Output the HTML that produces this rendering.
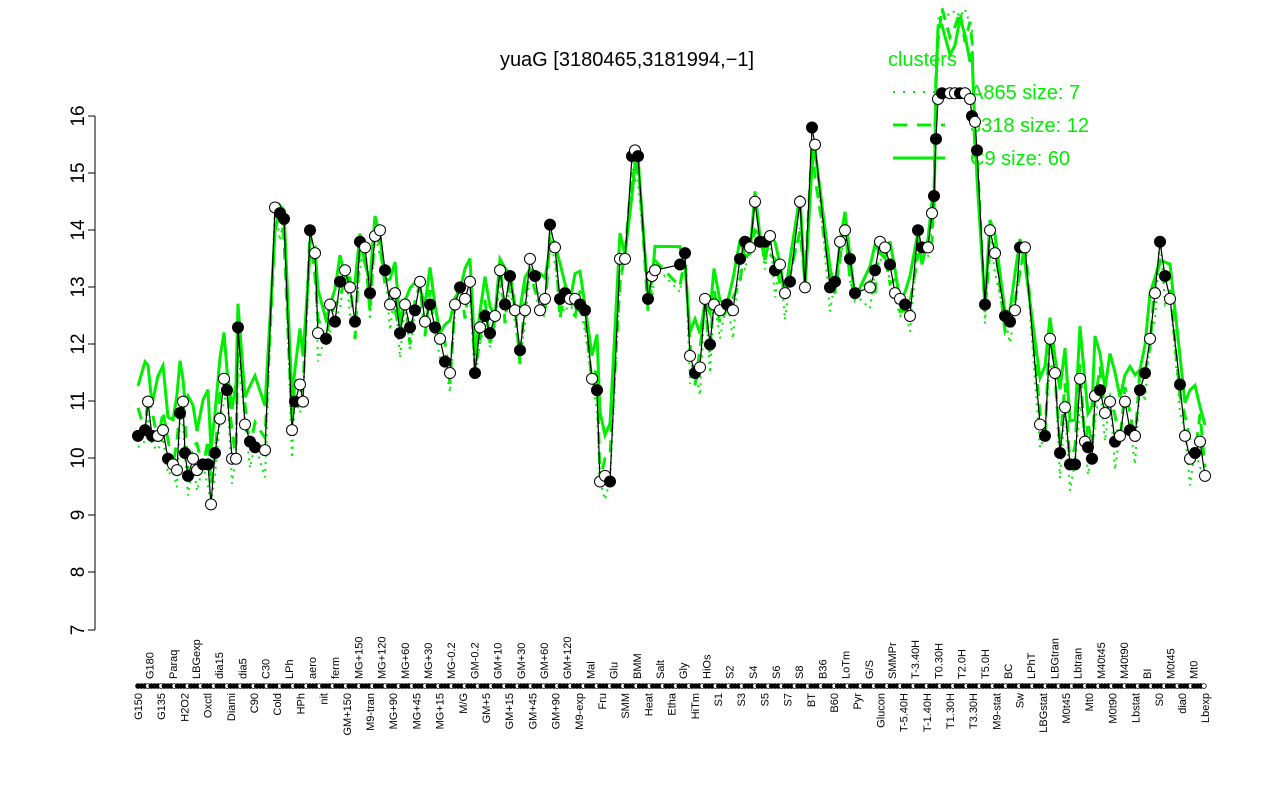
<!DOCTYPE html>
<html><head><meta charset="utf-8"><style>
html,body{margin:0;padding:0;background:#fff;}
svg{display:block;font-family:"Liberation Sans",sans-serif;}
</style></head><body>
<svg id="s" width="1280" height="800" viewBox="0 0 1280 800" xmlns="http://www.w3.org/2000/svg">
<text x="627" y="66" font-size="20" text-anchor="middle">yuaG [3180465,3181994,−1]</text>
<g stroke="#000" stroke-width="1">
<line x1="95" y1="116" x2="95" y2="630"/>
<line x1="88" y1="116" x2="95" y2="116"/><line x1="88" y1="173" x2="95" y2="173"/>
<line x1="88" y1="230" x2="95" y2="230"/><line x1="88" y1="287" x2="95" y2="287"/>
<line x1="88" y1="344" x2="95" y2="344"/><line x1="88" y1="401" x2="95" y2="401"/>
<line x1="88" y1="458" x2="95" y2="458"/><line x1="88" y1="515" x2="95" y2="515"/>
<line x1="88" y1="572" x2="95" y2="572"/><line x1="88" y1="630" x2="95" y2="630"/>
</g>
<g font-size="19" text-anchor="middle">
<text transform="translate(78,116) rotate(-90)" dy="6">16</text>
<text transform="translate(78,173) rotate(-90)" dy="6">15</text>
<text transform="translate(78,230) rotate(-90)" dy="6">14</text>
<text transform="translate(78,287) rotate(-90)" dy="6">13</text>
<text transform="translate(78,344) rotate(-90)" dy="6">12</text>
<text transform="translate(78,401) rotate(-90)" dy="6">11</text>
<text transform="translate(78,458) rotate(-90)" dy="6">10</text>
<text transform="translate(78,515) rotate(-90)" dy="6">9</text>
<text transform="translate(78,572) rotate(-90)" dy="6">8</text>
<text transform="translate(78,630) rotate(-90)" dy="6">7</text>
</g>
<g fill="#00ee00" font-size="20">
<text x="888" y="66">clusters</text>
<line x1="893" y1="92" x2="945" y2="92" stroke="#00ee00" stroke-width="2" stroke-dasharray="2,8"/>
<text x="970" y="99">A865 size: 7</text>
<line x1="893" y1="125" x2="945" y2="125" stroke="#00ee00" stroke-width="3" stroke-dasharray="14,10"/>
<text x="970" y="132">3318 size: 12</text>
<line x1="893" y1="158" x2="945" y2="158" stroke="#00ee00" stroke-width="3"/>
<text x="970" y="165">C9 size: 60</text>
</g>
<g id="lines"></g><g id="pts"></g><g id="dots"></g>
<g font-size="11">
<text transform="translate(153.6,679) rotate(-90)">G180</text>
<text transform="translate(176.8,679) rotate(-90)">Paraq</text>
<text transform="translate(200,679) rotate(-90)">LBGexp</text>
<text transform="translate(223.2,679) rotate(-90)">dia15</text>
<text transform="translate(246.4,679) rotate(-90)">dia5</text>
<text transform="translate(269.6,679) rotate(-90)">C30</text>
<text transform="translate(292.8,679) rotate(-90)">LPh</text>
<text transform="translate(316,679) rotate(-90)">aero</text>
<text transform="translate(339.2,679) rotate(-90)">ferm</text>
<text transform="translate(362.4,679) rotate(-90)">MG+150</text>
<text transform="translate(385.6,679) rotate(-90)">MG+120</text>
<text transform="translate(408.8,679) rotate(-90)">MG+60</text>
<text transform="translate(432,679) rotate(-90)">MG+30</text>
<text transform="translate(455.2,679) rotate(-90)">MG-0.2</text>
<text transform="translate(478.4,679) rotate(-90)">GM-0.2</text>
<text transform="translate(501.6,679) rotate(-90)">GM+10</text>
<text transform="translate(524.8,679) rotate(-90)">GM+30</text>
<text transform="translate(548,679) rotate(-90)">GM+60</text>
<text transform="translate(571.2,679) rotate(-90)">GM+120</text>
<text transform="translate(594.4,679) rotate(-90)">Mal</text>
<text transform="translate(617.6,679) rotate(-90)">Glu</text>
<text transform="translate(640.8,679) rotate(-90)">BMM</text>
<text transform="translate(664,679) rotate(-90)">Salt</text>
<text transform="translate(687.2,679) rotate(-90)">Gly</text>
<text transform="translate(710.4,679) rotate(-90)">HiOs</text>
<text transform="translate(733.6,679) rotate(-90)">S2</text>
<text transform="translate(756.8,679) rotate(-90)">S4</text>
<text transform="translate(780,679) rotate(-90)">S6</text>
<text transform="translate(803.2,679) rotate(-90)">S8</text>
<text transform="translate(826.4,679) rotate(-90)">B36</text>
<text transform="translate(849.6,679) rotate(-90)">LoTm</text>
<text transform="translate(872.8,679) rotate(-90)">G/S</text>
<text transform="translate(896,679) rotate(-90)">SMMPr</text>
<text transform="translate(919.2,679) rotate(-90)">T-3.40H</text>
<text transform="translate(942.4,679) rotate(-90)">T0.30H</text>
<text transform="translate(965.6,679) rotate(-90)">T2.0H</text>
<text transform="translate(988.8,679) rotate(-90)">T5.0H</text>
<text transform="translate(1012,679) rotate(-90)">BC</text>
<text transform="translate(1035.2,679) rotate(-90)">LPhT</text>
<text transform="translate(1058.4,679) rotate(-90)">LBGtran</text>
<text transform="translate(1081.6,679) rotate(-90)">Lbtran</text>
<text transform="translate(1104.8,679) rotate(-90)">M40t45</text>
<text transform="translate(1128,679) rotate(-90)">M40t90</text>
<text transform="translate(1151.2,679) rotate(-90)">BI</text>
<text transform="translate(1174.4,679) rotate(-90)">M0t45</text>
<text transform="translate(1197.6,679) rotate(-90)">Mt0</text>
</g>
<g font-size="11" text-anchor="end">
<text transform="translate(142,693) rotate(-90)">G150</text>
<text transform="translate(165.2,693) rotate(-90)">G135</text>
<text transform="translate(188.4,693) rotate(-90)">H2O2</text>
<text transform="translate(211.6,693) rotate(-90)">Oxctl</text>
<text transform="translate(234.8,693) rotate(-90)">Diami</text>
<text transform="translate(258,693) rotate(-90)">C90</text>
<text transform="translate(281.2,693) rotate(-90)">Cold</text>
<text transform="translate(304.4,693) rotate(-90)">HPh</text>
<text transform="translate(327.6,693) rotate(-90)">nit</text>
<text transform="translate(350.8,693) rotate(-90)">GM+150</text>
<text transform="translate(374,693) rotate(-90)">M9-tran</text>
<text transform="translate(397.2,693) rotate(-90)">MG+90</text>
<text transform="translate(420.4,693) rotate(-90)">MG+45</text>
<text transform="translate(443.6,693) rotate(-90)">MG+15</text>
<text transform="translate(466.8,693) rotate(-90)">M/G</text>
<text transform="translate(490,693) rotate(-90)">GM+5</text>
<text transform="translate(513.2,693) rotate(-90)">GM+15</text>
<text transform="translate(536.4,693) rotate(-90)">GM+45</text>
<text transform="translate(559.6,693) rotate(-90)">GM+90</text>
<text transform="translate(582.8,693) rotate(-90)">M9-exp</text>
<text transform="translate(606,693) rotate(-90)">Fru</text>
<text transform="translate(629.2,693) rotate(-90)">SMM</text>
<text transform="translate(652.4,693) rotate(-90)">Heat</text>
<text transform="translate(675.6,693) rotate(-90)">Etha</text>
<text transform="translate(698.8,693) rotate(-90)">HiTm</text>
<text transform="translate(722,693) rotate(-90)">S1</text>
<text transform="translate(745.2,693) rotate(-90)">S3</text>
<text transform="translate(768.4,693) rotate(-90)">S5</text>
<text transform="translate(791.6,693) rotate(-90)">S7</text>
<text transform="translate(814.8,693) rotate(-90)">BT</text>
<text transform="translate(838,693) rotate(-90)">B60</text>
<text transform="translate(861.2,693) rotate(-90)">Pyr</text>
<text transform="translate(884.4,693) rotate(-90)">Glucon</text>
<text transform="translate(907.6,693) rotate(-90)">T-5.40H</text>
<text transform="translate(930.8,693) rotate(-90)">T-1.40H</text>
<text transform="translate(954,693) rotate(-90)">T1.30H</text>
<text transform="translate(977.2,693) rotate(-90)">T3.30H</text>
<text transform="translate(1000.4,693) rotate(-90)">M9-stat</text>
<text transform="translate(1023.6,693) rotate(-90)">Sw</text>
<text transform="translate(1046.8,693) rotate(-90)">LBGstat</text>
<text transform="translate(1070,693) rotate(-90)">M0t45</text>
<text transform="translate(1093.2,693) rotate(-90)">Mt0</text>
<text transform="translate(1116.4,693) rotate(-90)">M0t90</text>
<text transform="translate(1139.6,693) rotate(-90)">Lbstat</text>
<text transform="translate(1162.8,693) rotate(-90)">S0</text>
<text transform="translate(1186,693) rotate(-90)">dia0</text>
<text transform="translate(1209.2,693) rotate(-90)">Lbexp</text>
</g>
</svg>
<script>
var d=[[138,10.4],[145,10.5],[148,11.0],[152,10.4],[158,10.4],[163,10.5],[168,10.0],[173,9.9],[177,9.8],[180,10.8],[183,11.0],[185,10.1],[188,9.7],[193,10.0],[197,9.8],[203,9.9],[208,9.9],[211,9.2],[215,10.1],[220,10.7],[224,11.4],[227,11.2],[232,10.0],[236,10.0],[238,12.3],[245,10.6],[250,10.3],[255,10.2],[265,10.15],[275,14.4],[280,14.3],[284,14.2],[292,10.5],[295,11.0],[300,11.3],[303,11.0],[310,14.0],[315,13.6],[318,12.2],[326,12.1],[330,12.7],[335,12.4],[340,13.1],[345,13.3],[350,13.0],[355,12.4],[360,13.8],[365,13.7],[370,12.9],[375,13.9],[380,14.0],[385,13.3],[390,12.7],[395,12.9],[400,12.2],[405,12.7],[410,12.3],[415,12.6],[420,13.1],[425,12.4],[430,12.7],[435,12.3],[440,12.1],[445,11.7],[450,11.5],[455,12.7],[460,13.0],[465,12.8],[470,13.1],[475,11.5],[480,12.3],[485,12.5],[490,12.2],[495,12.5],[500,13.3],[505,12.7],[510,13.2],[515,12.6],[520,11.9],[525,12.6],[530,13.5],[535,13.2],[540,12.6],[545,12.8],[550,14.1],[555,13.7],[560,12.8],[565,12.9],[570,12.8],[575,12.8],[580,12.7],[585,12.6],[592,11.4],[597,11.2],[600,9.6],[605,9.7],[610,9.6],[620,13.5],[625,13.5],[632,15.3],[635,15.4],[638,15.3],[648,12.8],[652,13.2],[655,13.3],[680,13.4],[685,13.6],[690,11.8],[695,11.5],[700,11.6],[705,12.8],[710,12.0],[714,12.7],[720,12.6],[727,12.7],[733,12.6],[740,13.5],[745,13.8],[750,13.7],[755,14.5],[760,13.8],[765,13.8],[770,13.9],[775,13.3],[780,13.4],[785,12.9],[790,13.1],[800,14.5],[805,13.0],[812,15.8],[815,15.5],[830,13.0],[835,13.1],[840,13.8],[845,14.0],[850,13.5],[855,12.9],[870,13.0],[875,13.3],[880,13.8],[885,13.7],[890,13.4],[895,12.9],[900,12.8],[905,12.7],[910,12.5],[918,14.0],[922,13.7],[928,13.7],[932,14.3],[934,14.6],[936,15.6],[938,16.3],[942,16.4],[950,16.4],[955,16.4],[960,16.4],[965,16.4],[970,16.3],[972,16.0],[975,15.9],[977,15.4],[985,12.7],[990,14.0],[995,13.6],[1005,12.5],[1010,12.4],[1015,12.6],[1020,13.7],[1025,13.7],[1040,10.6],[1045,10.4],[1050,12.1],[1055,11.5],[1060,10.1],[1065,10.9],[1070,9.9],[1075,9.9],[1080,11.4],[1085,10.3],[1088,10.2],[1092,10.0],[1095,11.1],[1100,11.2],[1105,10.8],[1110,11.0],[1115,10.3],[1120,10.4],[1125,11.0],[1130,10.5],[1135,10.4],[1140,11.2],[1145,11.5],[1150,12.1],[1155,12.9],[1160,13.8],[1165,13.2],[1170,12.8],[1180,11.3],[1185,10.4],[1190,10.0],[1195,10.1],[1200,10.3],[1205,9.7]];
function Y(v){return 630-(v-7)*57.1;}
var NS="http://www.w3.org/2000/svg";
function el(t,a,p){var e=document.createElementNS(NS,t);for(var k in a)e.setAttribute(k,a[k]);p.appendChild(e);return e;}
var L=document.getElementById('lines'),P=document.getElementById('pts'),D=document.getElementById('dots');
var mean=12.3;
function peak(x){return (x>=936&&x<=972)?1.6:0;}
function series(f,dash,w){var s='';d.forEach(function(p,i){s+=(i?'L':'M')+p[0]+','+Y(f(p[1],i)+peak(p[0])).toFixed(1);});el('path',{d:s,fill:'none',stroke:'#00ee00','stroke-width':w,'stroke-dasharray':dash},L);}
series(function(v,i){return v+(mean-v)*0.25+Math.sin(i*1.7)*0.35+0.4;},'',3);
series(function(v,i){return v+(mean-v)*0.1+Math.cos(i*2.3)*0.3;},'12,8',3);
series(function(v,i){return v+Math.sin(i*3.1)*0.3-0.2;},'2,5',2);
var s='';d.forEach(function(p,i){s+=(i?'L':'M')+p[0]+','+Y(p[1]).toFixed(1);});
el('path',{d:s,fill:'none',stroke:'#000','stroke-width':1.2},P);
d.forEach(function(p,i){el('circle',{cx:p[0],cy:Y(p[1]),r:5.5,fill:(i%3==0||i%5==1)?'#000':'#fff',stroke:'#000','stroke-width':1},P);});
var k=0;for(var xx=138;xx<=1205;xx+=3.3){k++;el('circle',{cx:xx.toFixed(1),cy:686,r:2.4,fill:(k%4==0)?'#fff':'#000',stroke:'#000','stroke-width':0.8},D);}
</script>
</body></html>
